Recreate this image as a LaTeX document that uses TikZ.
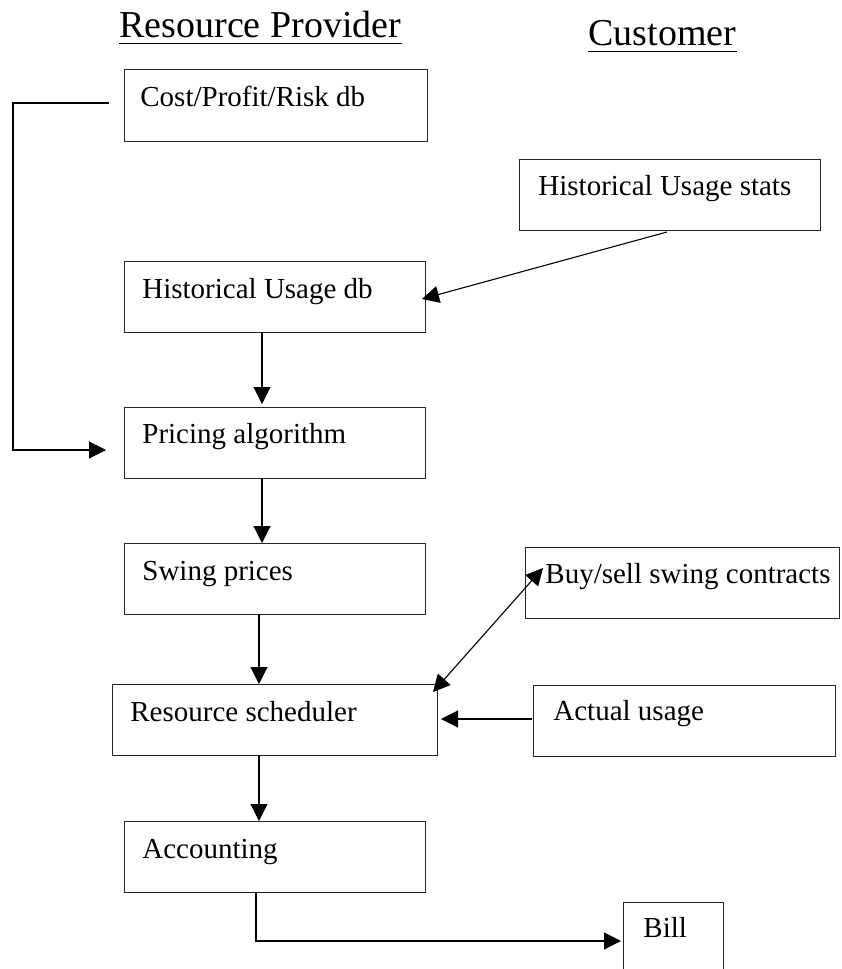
\documentclass[tikz,border=0pt]{standalone}
\usepackage{fontspec}
\setmainfont{Liberation Serif}
\usetikzlibrary{arrows.meta}
\begin{document}
\begin{tikzpicture}[x=0.5pt,y=-0.5pt,
  box/.style={draw=black!85,line width=0.6pt,inner sep=0pt,anchor=north west,minimum height=35.5pt},
  lbl/.style={inner sep=0pt,anchor=base west,font=\fontsize{14.5pt}{17pt}\selectfont},
  ttl/.style={inner sep=0pt,anchor=base west,font=\fontsize{19pt}{22pt}\selectfont},
  arr/.style={line width=0.55pt,-{Triangle[length=8.5pt,width=8.5pt]}},
  darr/.style={line width=0.55pt,{Triangle[length=8.5pt,width=8.5pt]}-{Triangle[length=8.5pt,width=8.5pt]}},
  ln/.style={line width=0.55pt}]
\clip (0,0) rectangle (841,969);
\fill[white] (0,0) rectangle (841,969);
% titles
\node[ttl] (rp) at (119,37) {Resource Provider};
\node[ttl] (cu) at (588,45) {Customer};
\draw[line width=0.9pt] ([yshift=-3.2pt]rp.base west) -- ([yshift=-3.2pt]rp.base east);
\draw[line width=0.9pt] ([yshift=-3.2pt]cu.base west) -- ([yshift=-3.2pt]cu.base east);
% boxes
\node[box,minimum width=151.5pt,minimum height=36pt] (cost) at (124,69) {};
\node[lbl] (costt) at (140,106) {Cost/Profit/Risk db};
\node[box,minimum width=150.5pt] (hus) at (519,159) {};
\node[lbl] (hust) at (538,195) {Historical Usage stats};
\node[box,minimum width=150.5pt] (hdb) at (124,261) {};
\node[lbl] (hdbt) at (142,298) {Historical Usage db};
\node[box,minimum width=150.5pt] (pa) at (124,407) {};
\node[lbl] (pat) at (142,443) {Pricing algorithm};
\node[box,minimum width=150.5pt] (sp) at (124,543) {};
\node[lbl] (spt) at (142,580) {Swing prices};
\node[box,minimum width=157pt] (bs) at (525,547) {};
\node[lbl] (bst) at (545,583) {Buy/sell swing contracts};
\node[box,minimum width=162.5pt] (rs) at (112,684) {};
\node[lbl] (rst) at (130,721) {Resource scheduler};
\node[box,minimum width=151pt] (au) at (533,685) {};
\node[lbl] (aut) at (553,720) {Actual usage};
\node[box,minimum width=150.5pt] (acc) at (124,821) {};
\node[lbl] (acct) at (142,858) {Accounting};
\node[box,minimum width=50pt,minimum height=45pt] (bill) at (623,902) {};
\node[lbl] (billt) at (643,937) {Bill};
% connector points
\coordinate (costout) at (109,103);
\coordinate (lc1) at (13,103);
\coordinate (lc2) at (13,450);
\coordinate (pain) at (106,450);
\coordinate (husout) at (667,232);
\coordinate (hdbin) at (422,299);
\coordinate (bsend) at (543,568);
\coordinate (rsend) at (433,692);
\coordinate (auout) at (532,719);
\coordinate (rsin) at (441,719);
\coordinate (accout) at (256,892);
\coordinate (bc1) at (256,941);
\coordinate (billin) at (621,941);
% connectors
\draw[arr] (costout) -- (lc1) -- (lc2) -- (pain);
\draw[arr] (husout) -- (hdbin);
\draw[arr] (262,332) -- (262,404);
\draw[arr] (262,478) -- (262,543);
\draw[arr] (259,614) -- (259,684);
\draw[darr] (rsend) -- (bsend);
\draw[arr] (auout) -- (rsin);
\draw[arr] (259,755) -- (259,821);
\draw[arr] (accout) -- (bc1) -- (billin);
\end{tikzpicture}
\end{document}
